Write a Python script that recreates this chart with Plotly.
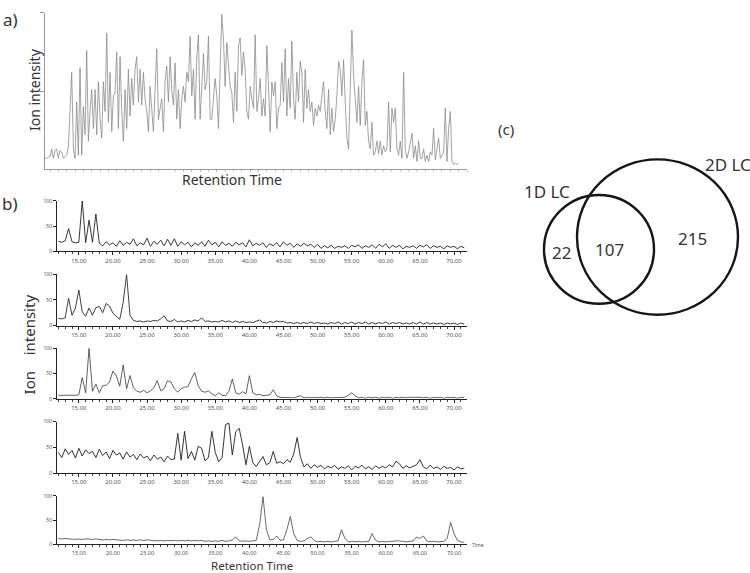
import plotly.graph_objects as go

W, H = 750, 573
FONT = "Noto Sans, Open Sans, DejaVu Sans, sans-serif"


def fx(px):
    return px / W


def fy(py):
    return 1 - py / H


# ---------------- Panel (a): total ion chromatogram ----------------
scan_start, scan_step = 135, 5
tic_a = [
    7, 7, 8, 8, 13, 7, 12, 13, 7, 12, 11, 7, 8, 9, 14, 40, 62, 13, 7, 43,
    9, 65, 9, 40, 22, 76, 18, 37, 51, 26, 51, 22, 56, 32, 20, 56, 37, 87, 30, 62,
    24, 47, 49, 75, 26, 72, 37, 18, 51, 26, 64, 34, 58, 41, 64, 72, 43, 64, 41, 62,
    45, 37, 24, 53, 41, 24, 51, 77, 32, 39, 45, 24, 56, 66, 43, 72, 51, 41, 68, 32,
    51, 26, 45, 53, 43, 62, 56, 85, 47, 64, 32, 72, 86, 32, 58, 74, 51, 56, 85, 32,
    32, 43, 58, 47, 26, 64, 99, 83, 53, 81, 68, 53, 49, 30, 62, 37, 79, 84, 60, 75,
    64, 37, 32, 53, 45, 39, 86, 37, 45, 58, 34, 45, 34, 79, 53, 24, 56, 47, 56, 26,
    39, 41, 68, 43, 77, 34, 58, 39, 82, 45, 32, 62, 43, 69, 62, 30, 64, 39, 51, 37,
    43, 28, 39, 34, 41, 37, 47, 56, 37, 26, 51, 22, 39, 24, 32, 47, 69, 64, 47, 70,
    43, 20, 13, 51, 89, 60, 43, 30, 53, 28, 56, 70, 28, 37, 18, 13, 30, 9, 11, 18,
    10, 18, 9, 15, 11, 13, 43, 11, 39, 30, 39, 13, 9, 18, 7, 62, 13, 7, 11, 18,
    23, 7, 15, 5, 18, 7, 7, 13, 5, 9, 5, 11, 9, 26, 6, 13, 20, 7, 9, 11,
    39, 5, 26, 37, 5, 3, 4, 3, 4,
]
scan_a = [scan_start + scan_step * i for i in range(len(tic_a))]

# ---------------- Panel (b): five chromatograms (retention time, min) ----------------
t_start, t_step = 12.0, 0.5
xic_1 = [
    20, 18, 21, 45, 19, 17, 18, 100, 17, 62, 18, 74, 16, 11, 19, 13, 17, 10, 21, 12,
    18, 14, 25, 11, 17, 13, 26, 10, 20, 14, 22, 11, 24, 12, 25, 10, 19, 13, 18, 9,
    17, 12, 19, 10, 22, 13, 18, 9, 19, 12, 16, 10, 18, 13, 17, 9, 23, 11, 16, 12,
    17, 8, 15, 11, 17, 9, 19, 12, 16, 8, 15, 10, 16, 11, 14, 8, 14, 6, 11, 7,
    12, 6, 10, 8, 11, 6, 12, 9, 13, 6, 11, 8, 13, 6, 14, 9, 15, 6, 12, 8,
    12, 5, 10, 8, 11, 6, 12, 9, 13, 6, 11, 8, 10, 5, 11, 8, 10, 5, 10, 7,
]
xic_2 = [
    14, 13, 15, 53, 20, 34, 69, 27, 18, 34, 20, 35, 37, 25, 43, 38, 24, 17, 12, 45,
    99, 20, 10, 8, 9, 7, 9, 8, 10, 9, 13, 19, 9, 8, 12, 7, 9, 7, 10, 8,
    11, 9, 15, 8, 9, 7, 8, 7, 10, 7, 9, 6, 9, 6, 8, 6, 7, 6, 8, 11,
    6, 5, 8, 6, 9, 7, 8, 5, 6, 4, 6, 4, 6, 4, 7, 4, 6, 4, 5, 3,
    6, 4, 7, 3, 6, 4, 7, 3, 6, 4, 7, 3, 6, 3, 6, 4, 7, 3, 6, 4,
    6, 3, 5, 3, 6, 3, 7, 3, 6, 3, 5, 3, 5, 2, 5, 3, 5, 2, 5, 3,
]
xic_3 = [
    7, 7, 6, 7, 6, 7, 8, 42, 12, 100, 15, 29, 12, 26, 27, 33, 55, 45, 25, 67,
    20, 46, 22, 15, 13, 17, 12, 16, 22, 36, 16, 20, 36, 33, 20, 13, 20, 23, 24, 40,
    52, 26, 15, 13, 16, 10, 6, 12, 7, 6, 15, 39, 12, 9, 14, 10, 46, 12, 8, 9,
    6, 7, 8, 18, 6, 3, 3, 2, 3, 2, 4, 6, 2, 3, 2, 3, 2, 3, 2, 3,
    2, 2, 3, 2, 3, 7, 12, 6, 2, 3, 1, 3, 2, 3, 1, 3, 2, 3, 1, 3,
    2, 3, 2, 3, 3, 4, 3, 2, 3, 1, 3, 2, 3, 1, 3, 2, 3, 1, 3, 2,
]
xic_4 = [
    40, 30, 47, 36, 44, 29, 48, 33, 45, 38, 42, 30, 46, 34, 41, 28, 44, 35, 39, 27,
    41, 31, 36, 26, 37, 29, 33, 24, 35, 27, 31, 22, 33, 26, 27, 77, 25, 81, 28, 42,
    25, 52, 48, 24, 30, 81, 40, 22, 30, 94, 97, 35, 80, 87, 55, 16, 52, 20, 13, 22,
    32, 16, 20, 42, 19, 22, 18, 26, 21, 37, 69, 30, 12, 18, 9, 16, 11, 15, 8, 13,
    10, 15, 7, 12, 9, 14, 6, 13, 10, 15, 8, 12, 7, 14, 9, 13, 10, 16, 12, 23,
    18, 9, 14, 10, 13, 16, 26, 12, 8, 15, 9, 12, 7, 13, 9, 11, 6, 12, 8, 10,
]
xic_5 = [
    12, 11, 12, 11, 11, 10, 11, 10, 11, 10, 10, 11, 10, 9, 10, 9, 10, 9, 9, 8,
    9, 8, 9, 8, 9, 8, 9, 8, 8, 7, 8, 7, 8, 7, 8, 7, 8, 7, 8, 7,
    8, 7, 8, 6, 7, 6, 7, 6, 8, 6, 7, 9, 15, 7, 6, 7, 6, 7, 8, 40,
    98, 30, 9, 10, 17, 8, 9, 30, 57, 22, 8, 6, 7, 12, 15, 8, 5, 6, 5, 6,
    5, 6, 7, 30, 12, 5, 6, 5, 6, 5, 5, 6, 22, 8, 5, 6, 5, 6, 6, 7,
    7, 6, 5, 6, 7, 15, 12, 17, 7, 5, 6, 5, 5, 6, 12, 45, 22, 8, 5, 4,
]
time_b = [t_start + t_step * i for i in range(len(xic_1))]
b_series = [xic_1, xic_2, xic_3, xic_4, xic_5]
b_yticks = [0, 50, 100]
b_yticktext = ["0", "50", "100"]
b_xticks = [15, 20, 25, 30, 35, 40, 45, 50, 55, 60, 65, 70]

# ---------------- Panel (c): Venn counts ----------------
venn_sets = ["1D LC", "2D LC"]
only_1d, shared, only_2d = 22, 107, 215

fig = go.Figure()

# panel a trace
fig.add_trace(go.Scatter(x=scan_a, y=tic_a, mode="lines",
                         line=dict(color="#8c8c8c", width=0.8),
                         xaxis="x", yaxis="y", showlegend=False, hoverinfo="skip"))

# panel b traces
b_colors = ["#222222", "#2a2a2a", "#3a3a3a", "#1e1e1e", "#444444"]
b_widths = [0.9, 0.9, 0.8, 0.9, 0.8]
for i, ys in enumerate(b_series):
    k = i + 2
    fig.add_trace(go.Scatter(x=time_b, y=ys, mode="lines",
                             line=dict(color=b_colors[i], width=b_widths[i]),
                             xaxis=f"x{k}", yaxis=f"y{k}", showlegend=False,
                             hoverinfo="skip"))

layout = dict(
    width=W, height=H,
    margin=dict(l=0, r=0, t=0, b=0),
    paper_bgcolor="white", plot_bgcolor="rgba(0,0,0,0)",
    font=dict(family=FONT, color="#333333"),
    showlegend=False,
)

layout["xaxis"] = dict(domain=[fx(45), fx(467)], range=[135, 1400], anchor="y",
                       showline=True, linecolor="#9a9a9a", linewidth=1,
                       showgrid=False, zeroline=False, showticklabels=False,
                       ticks="", minor=dict(ticks="outside", dtick=25, ticklen=2,
                                            tickcolor="#c0c0c0"))
layout["yaxis"] = dict(domain=[fy(168), fy(10)], range=[0, 100], anchor="x",
                       showline=True, linecolor="#9a9a9a", linewidth=1,
                       showgrid=False, zeroline=False, showticklabels=False,
                       ticks="outside", tickvals=[50, 100], ticklen=4,
                       tickcolor="#9a9a9a")

# pixel rows of "100" and "0" for the five stacked panels
b_rows = [(200, 251), (274, 326), (349, 400), (423, 475), (498, 547)]
for i, (p100, p0) in enumerate(b_rows):
    k = i + 2
    layout[f"xaxis{k}"] = dict(
        domain=[fx(57), fx(467)], range=[11.8, 71.9], anchor=f"y{k}",
        showline=True, linecolor="#222", linewidth=1, showgrid=False,
        zeroline=False, ticks="outside", ticklen=3, tickcolor="#222",
        tickvals=b_xticks, tickformat=".2f",
        tickfont=dict(size=6 if k < 6 else 5.5, color="#555"),
        minor=dict(ticks="outside", dtick=1, tick0=12, ticklen=2, tickcolor="#444"),
    )
    layout[f"yaxis{k}"] = dict(
        domain=[fy(p0), fy(p100)], range=[0, 100], anchor=f"x{k}",
        showline=True, linecolor="#222", linewidth=1, showgrid=False,
        zeroline=False, ticks="outside", ticklen=3, tickcolor="#222",
        tickvals=b_yticks, ticktext=b_yticktext,
        tickfont=dict(size=5, color="#555"),
    )

# Venn circles (panel c)
shapes = [
    dict(type="circle", xref="paper", yref="paper",
         x0=fx(544), x1=fx(654), y0=fy(304), y1=fy(194),
         line=dict(color="#151515", width=2.4)),
    dict(type="circle", xref="paper", yref="paper",
         x0=fx(577), x1=fx(738), y0=fy(315), y1=fy(158),
         line=dict(color="#151515", width=2.4)),
]
layout["shapes"] = shapes

ann = []


def text(x, y, s, size, xanchor="center", yanchor="middle", angle=0, color="#333333",
         pad=1):
    ann.append(dict(x=fx(x), y=fy(y), xref="paper", yref="paper", text=s,
                    showarrow=False, xanchor=xanchor, yanchor=yanchor,
                    textangle=angle, borderpad=pad,
                    font=dict(size=size, color=color, family=FONT)))


# panel labels
text(1, 17, "a)", 17, xanchor="left")
text(0, 203, "b)", 17, xanchor="left")
text(506, 127, "(c)", 15)

# panel a axis titles
text(34, 88, "Ion intensity", 14, angle=-90)
text(232, 178, "Retention Time", 14)

# panel b axis titles
text(29, 345, "Ion\u00a0\u00a0\u00a0\u00a0intensity", 15, angle=-90)
text(252, 568, "Retention Time", 11.5, pad=0)
text(470, 548, "Time", 5, xanchor="left", color="#555")

# Venn labels and counts
text(547, 191, venn_sets[0], 17)
text(703, 163, venn_sets[1], 17, xanchor="left")
text(561, 252, str(only_1d), 17)
text(609, 249, str(shared), 17)
text(692, 238, str(only_2d), 17)

layout["annotations"] = ann
fig.update_layout(**layout)
fig.write_html("out.html")
